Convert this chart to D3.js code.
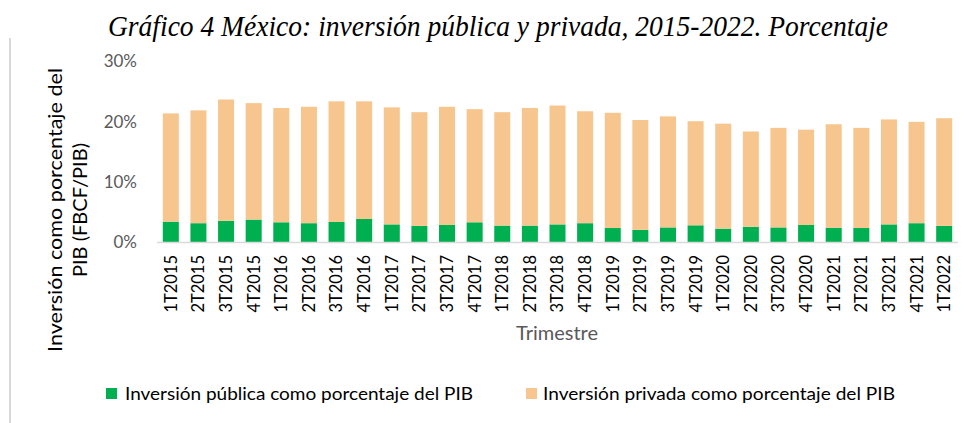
<!DOCTYPE html>
<html>
<head>
<meta charset="utf-8">
<script src="https://cdn.jsdelivr.net/npm/d3@7"></script>
<style>
  body { margin: 0; background: #fff; }
  svg { display: block; }
</style>
</head>
<body>
<svg id="chart" width="977" height="423"></svg>
<script>
// Datos (porcentaje del PIB)
const trimestres = [
  "1T2015", "2T2015", "3T2015", "4T2015",
  "1T2016", "2T2016", "3T2016", "4T2016",
  "1T2017", "2T2017", "3T2017", "4T2017",
  "1T2018", "2T2018", "3T2018", "4T2018",
  "1T2019", "2T2019", "3T2019", "4T2019",
  "1T2020", "2T2020", "3T2020", "4T2020",
  "1T2021", "2T2021", "3T2021", "4T2021",
  "1T2022",
];
const publica = [
  3.45, 3.2, 3.6, 3.8, 3.35, 3.2, 3.4, 3.9, 3.0, 2.75, 2.9, 3.35, 2.8, 2.8,
  3.0, 3.2, 2.4, 2.1, 2.5, 2.85, 2.3, 2.6, 2.5, 2.9, 2.45, 2.4, 3.0, 3.2, 2.75,
];
const privada = [
  17.95, 18.7, 20.1, 19.3, 18.95, 19.3, 20.0, 19.5, 19.4, 18.85, 19.6, 18.75,
  18.8, 19.5, 19.7, 18.55, 19.1, 18.2, 18.4, 17.25, 17.4, 15.8, 16.5, 15.8,
  17.15, 16.6, 17.4, 16.8, 17.85,
];
const yTicks = [0, 10, 20, 30];
const series = [
  "Inversión pública como porcentaje del PIB",
  "Inversión privada como porcentaje del PIB",
];

const font = "Lato, 'Open Sans', sans-serif";
const colors = ["#00b050", "#f6c68e"];

const svg = d3.select("#chart");

// tabla para el stack
const rows = trimestres.map((t, i) => ({ t, pub: publica[i], priv: privada[i] }));
const stacked = d3.stack().keys(["pub", "priv"])(rows);

const x = d3.scaleBand()
  .domain(trimestres)
  .range([157, 958])
  .paddingInner(0.42)
  .paddingOuter(0.21);

const y = d3.scaleLinear().domain([0, 30]).range([242.5, 61.5]);

// línea gris del marco a la izquierda
svg.append("line")
  .attr("x1", 10).attr("x2", 10)
  .attr("y1", 38).attr("y2", 423)
  .attr("stroke", "#d9d9d9")
  .attr("stroke-width", 2);

// título
svg.append("text")
  .attr("x", 108)
  .attr("y", 36)
  .attr("textLength", 780)
  .attr("lengthAdjust", "spacingAndGlyphs")
  .style("font-family", "'Liberation Serif', 'Times New Roman', serif")
  .style("font-style", "italic")
  .style("font-size", "30px")
  .attr("fill", "#000")
  .text("Gráfico 4 México: inversión pública y privada, 2015-2022. Porcentaje");

// barras
svg.append("g")
  .selectAll("g")
  .data(stacked)
  .join("g")
  .attr("fill", (d, i) => colors[i])
  .selectAll("rect")
  .data((d) => d)
  .join("rect")
  .attr("x", (d) => x(d.data.t))
  .attr("width", x.bandwidth())
  .attr("y", (d) => y(d[1]))
  .attr("height", (d) => y(d[0]) - y(d[1]));

// eje x
svg.append("line")
  .attr("x1", 157).attr("x2", 958)
  .attr("y1", y(0)).attr("y2", y(0))
  .attr("stroke", "#d9d9d9")
  .attr("stroke-width", 1.5);

svg.append("g")
  .selectAll("text")
  .data(trimestres)
  .join("text")
  .attr("transform", (d) => `translate(${x(d) + x.bandwidth() / 2},255) rotate(-90)`)
  .attr("dy", "0.36em")
  .attr("text-anchor", "end")
  .style("font-family", font)
  .style("font-size", "16.5px")
  .attr("fill", "#000")
  .text((d) => d);

// eje y
svg.append("g")
  .selectAll("text")
  .data(yTicks)
  .join("text")
  .attr("x", 137)
  .attr("y", (d) => y(d))
  .attr("dy", "0.35em")
  .attr("text-anchor", "end")
  .style("font-family", font)
  .style("font-size", "17px")
  .attr("fill", "#595959")
  .text((d) => d + "%");

// títulos de ejes
svg.append("text")
  .attr("x", 557)
  .attr("y", 340)
  .attr("text-anchor", "middle")
  .style("font-family", font)
  .style("font-size", "20px")
  .attr("fill", "#595959")
  .text("Trimestre");

const yTitle = [
  { txt: "Inversión como porcentaje del", cx: 55, len: 284 },
  { txt: "PIB (FBCF/PIB)", cx: 80, len: 134 },
];
svg.append("g")
  .selectAll("text")
  .data(yTitle)
  .join("text")
  .attr("transform", (d) => `translate(${d.cx},210) rotate(-90)`)
  .attr("dy", "0.35em")
  .attr("text-anchor", "middle")
  .attr("textLength", (d) => d.len)
  .attr("lengthAdjust", "spacingAndGlyphs")
  .style("font-family", font)
  .style("font-size", "20px")
  .attr("fill", "#000")
  .text((d) => d.txt);

// leyenda
const legendPos = [
  { sx: 106, tx: 125, len: 348 },
  { sx: 526, tx: 543, len: 352 },
];
const legend = svg.append("g")
  .selectAll("g")
  .data(series)
  .join("g");

legend.append("rect")
  .attr("x", (d, i) => legendPos[i].sx)
  .attr("y", 388)
  .attr("width", 11)
  .attr("height", 11)
  .attr("fill", (d, i) => colors[i]);

legend.append("text")
  .attr("x", (d, i) => legendPos[i].tx)
  .attr("y", 394)
  .attr("dy", "0.35em")
  .attr("textLength", (d, i) => legendPos[i].len)
  .attr("lengthAdjust", "spacingAndGlyphs")
  .style("font-family", font)
  .style("font-size", "18px")
  .attr("fill", "#000")
  .text((d) => d);
</script>
</body>
</html>
